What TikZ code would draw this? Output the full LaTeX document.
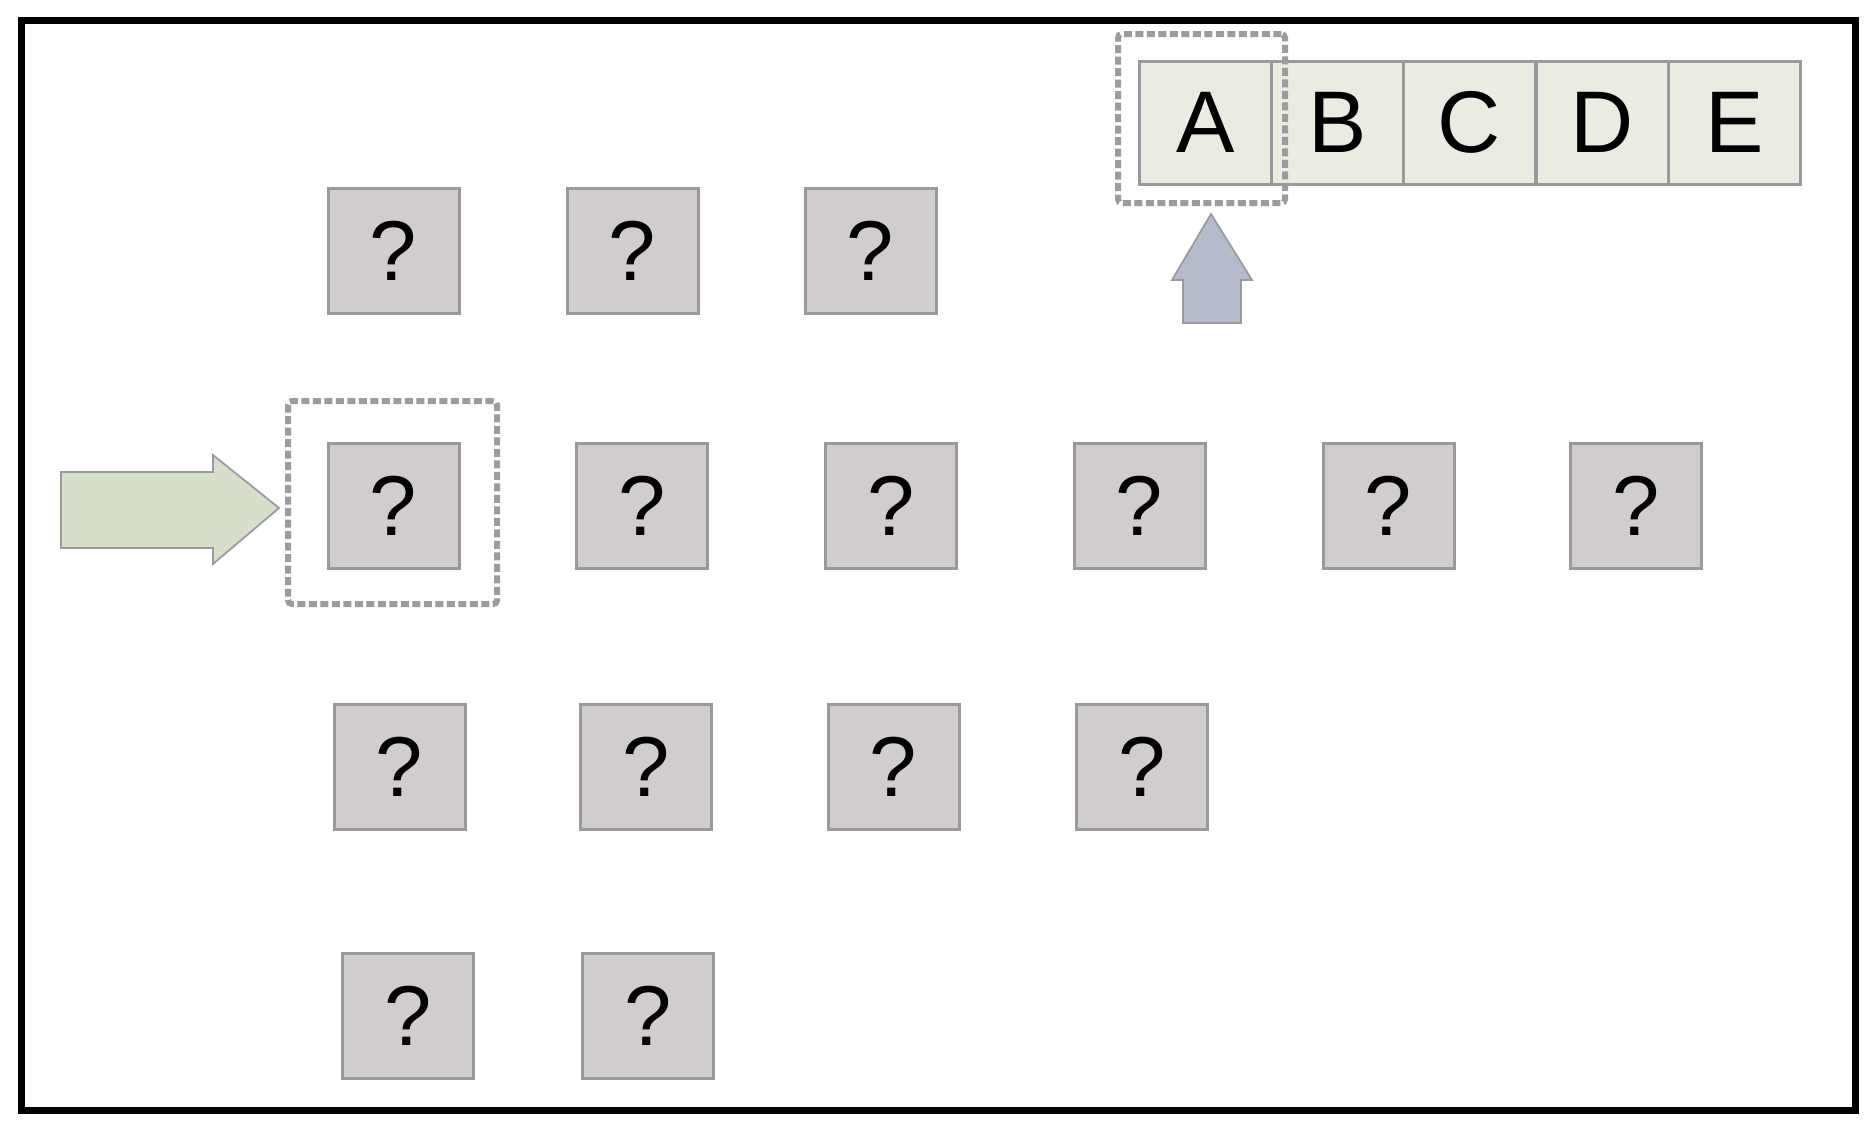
\documentclass[tikz,border=0pt]{standalone}
\usepackage{fontspec}
\setmainfont{Liberation Sans}
\definecolor{qfill}{HTML}{D1CDCE}
\definecolor{qline}{HTML}{9A9A9E}
\definecolor{sfill}{HTML}{E9ECE1}
\definecolor{gfill}{HTML}{D6DFC8}
\definecolor{bfill}{HTML}{B5BACC}
\definecolor{dline}{HTML}{9C9C9E}
\begin{document}
\begin{tikzpicture}[x=0.4pt,y=-0.4pt,
  qbox/.style={draw=qline, fill=qfill, line width=1.2pt, minimum width=52.4pt, minimum height=50pt, inner sep=0pt, font=\fontsize{34}{34}\selectfont},
  cell/.style={draw=qline, fill=sfill, line width=1.2pt, minimum width=52.8pt, minimum height=49.2pt, inner sep=0pt, font=\fontsize{35}{35}\selectfont},
  selbox/.style={draw=dline, line width=2.4pt, dash pattern=on 3.2pt off 1.4pt, rounded corners=1.5pt, inner sep=0pt},
  frame/.style={draw=black, line width=2.8pt},
  bigarrow/.style={draw=qline, line width=0.7pt}]
\useasboundingbox (0,0) rectangle (1875,1135);
\fill[white] (0,0) rectangle (1875,1135);
\draw[frame] (21,20) rectangle (1855,1110);
% row 1
\node[qbox] (q11) at (393.5,250.5) {?};
\node[qbox] (q12) at (632.5,250.5) {?};
\node[qbox] (q13) at (870.5,250.5) {?};
% row 2
\node[qbox] (q21) at (393.5,505.5) {?};
\node[qbox] (q22) at (642,505.5) {?};
\node[qbox] (q23) at (891,505.5) {?};
\node[qbox] (q24) at (1139.5,505.5) {?};
\node[qbox] (q25) at (1388.5,505.5) {?};
\node[qbox] (q26) at (1636,505.5) {?};
% row 3
\node[qbox] (q31) at (399.5,766.5) {?};
\node[qbox] (q32) at (646,766.5) {?};
\node[qbox] (q33) at (893.5,766.5) {?};
\node[qbox] (q34) at (1142,766.5) {?};
% row 4
\node[qbox] (q41) at (408,1015.5) {?};
\node[qbox] (q42) at (648,1015.5) {?};
% strip
\node[cell] (cA) at (1205.5,122.5) {A};
\node[cell] (cB) at (1337.5,122.5) {B};
\node[cell] (cC) at (1469.5,122.5) {C};
\node[cell] (cD) at (1602,122.5) {D};
\node[cell] (cE) at (1734.5,122.5) {E};
% selection boxes
\node[selbox, minimum width=83.6pt, minimum height=81.2pt] (selq) at (392.5,502.5) {};
\node[selbox, minimum width=66.8pt, minimum height=67.6pt] (selA) at (1201.5,118.5) {};
% arrows
\coordinate (gtip) at (279,508);
\coordinate (btip) at (1211,214);
\draw[bigarrow, fill=gfill] (gtip) -- (213,455) -- (213,472) -- (61,472) -- (61,548) -- (213,548) -- (213,564) -- cycle;
\draw[bigarrow, fill=bfill] (btip) -- (1252,280) -- (1241,280) -- (1241,323) -- (1183,323) -- (1183,280) -- (1172,280) -- cycle;
\end{tikzpicture}
\end{document}
